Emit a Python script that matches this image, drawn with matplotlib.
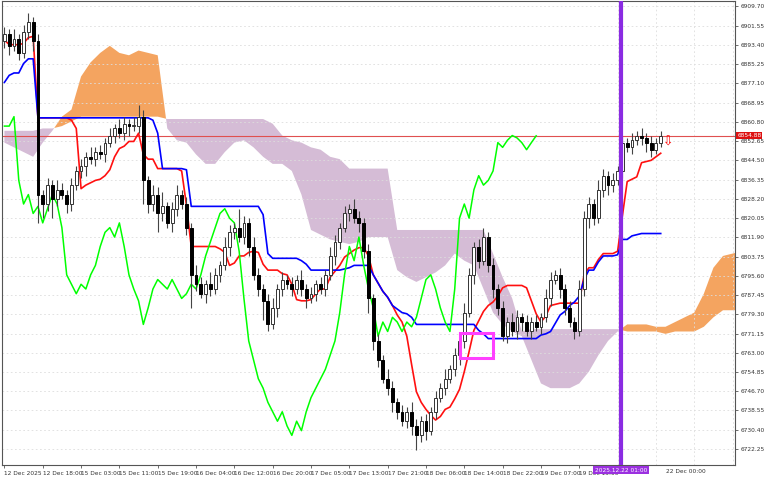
import matplotlib
matplotlib.use("Agg")
import matplotlib.pyplot as plt
import numpy as np
import pandas as pd
from matplotlib.patches import Rectangle

# ---------------- data ----------------
hist_close = [6852, 6850, 6856, 6862, 6858, 6866, 6870, 6868, 6874, 6880, 6878, 6884, 6890,
              6886, 6892, 6896, 6894, 6900, 6905, 6898, 6894, 6888, 6892, 6886, 6890, 6895]

closes = [6898, 6893, 6896, 6890, 6899, 6903, 6895, 6830, 6826, 6834,
          6828, 6832, 6830, 6826, 6834, 6840, 6842, 6846, 6845, 6848,
          6847, 6852, 6855, 6858, 6856, 6860, 6859, 6859, 6863, 6836,
          6826, 6830, 6822, 6825, 6818, 6824, 6830, 6826, 6816, 6796,
          6792, 6788, 6792, 6790, 6796, 6800, 6808, 6814, 6816, 6812,
          6818, 6808, 6796, 6790, 6785, 6775, 6782, 6790, 6794, 6792,
          6790, 6794, 6790, 6786, 6788, 6792, 6790, 6796, 6804, 6810,
          6816, 6822, 6824, 6820, 6818, 6806, 6786, 6768, 6760, 6752,
          6748, 6742, 6738, 6734, 6738, 6732, 6728, 6734, 6730, 6738,
          6744, 6748, 6752, 6756, 6762, 6768, 6780, 6796, 6808, 6802,
          6812, 6800, 6790, 6782, 6770, 6776, 6772, 6778, 6776, 6772,
          6776, 6774, 6778, 6786, 6794, 6796, 6790, 6782, 6776, 6772,
          6790, 6820, 6826, 6820, 6832, 6838, 6834, 6836, 6840, 6852,
          6850, 6853, 6855, 6854, 6852, 6849, 6852, 6854.88]

wick_up = [3, 2, 4, 2, 3, 4, 2, 3, 2, 3,
           2, 4, 3, 2, 3, 2, 3, 2, 4, 2,
           3, 2, 3, 2, 4, 3, 2, 4, 5, 3,
           2, 4, 3, 6, 2, 3, 4, 2, 3, 2,
           4, 3, 2, 5, 3, 2, 4, 3, 2, 8,
           3, 2, 4, 3, 2, 3, 4, 2, 3, 2,
           3, 2, 4, 2, 3, 2, 3, 2, 4, 3,
           2, 3, 2, 4, 3, 2, 3, 2, 3, 2,
           4, 3, 2, 3, 2, 4, 3, 2, 3, 2,
           3, 2, 4, 2, 3, 2, 4, 3, 2, 3,
           4, 2, 3, 2, 3, 2, 4, 3, 2, 3,
           2, 3, 2, 4, 3, 2, 3, 2, 3, 2,
           4, 3, 3, 2, 4, 3, 2, 3, 2, 3,
           2, 3, 2, 3, 2, 3, 2, 2]

wick_dn = [3, 4, 2, 3, 2, 3, 4, 12, 6, 3,
           8, 3, 2, 4, 3, 2, 3, 4, 2, 3,
           2, 3, 2, 3, 2, 3, 4, 2, 3, 10,
           4, 3, 8, 3, 2, 4, 3, 2, 3, 14,
           3, 2, 4, 3, 2, 3, 2, 4, 3, 2,
           3, 4, 2, 3, 8, 3, 2, 4, 3, 2,
           3, 2, 3, 4, 2, 3, 2, 3, 2, 4,
           3, 2, 3, 2, 4, 3, 6, 4, 3, 2,
           3, 4, 3, 2, 3, 4, 6, 3, 4, 2,
           3, 2, 3, 2, 3, 4, 3, 2, 4, 3,
           2, 3, 4, 3, 2, 3, 2, 3, 4, 2,
           3, 2, 3, 2, 3, 2, 4, 3, 2, 3,
           2, 3, 4, 3, 2, 3, 4, 3, 2, 3,
           2, 3, 2, 3, 4, 3, 2, 2]

cloud_a = [6852, 6850, 6848, 6846, 6852, 6857, 6863, 6866, 6880, 6886,
           6890, 6893, 6890, 6889, 6891, 6890, 6889, 6858, 6853, 6852,
           6847, 6843, 6843, 6848, 6852, 6853, 6850, 6846, 6843, 6843,
           6840, 6830, 6815, 6813, 6811, 6810, 6809, 6810, 6812, 6812,
           6812, 6798, 6795, 6793, 6795, 6797, 6800, 6805, 6802, 6800,
           6790, 6780, 6775, 6772, 6770, 6760, 6750, 6748, 6748, 6748,
           6750, 6755, 6762, 6768, 6772, 6775, 6775, 6775, 6774, 6774,
           6776, 6778, 6780, 6788, 6799, 6804, 6805, 6806]
cloud_b = [6857, 6857, 6857, 6857, 6858, 6858, 6859, 6861, 6863, 6863,
           6863, 6863, 6863, 6863, 6863, 6863, 6863, 6862, 6862, 6862,
           6862, 6862, 6862, 6862, 6862, 6862, 6862, 6862, 6860, 6855,
           6853, 6852, 6850, 6849, 6846, 6845, 6841, 6841, 6841, 6841,
           6841, 6815, 6815, 6815, 6815, 6815, 6815, 6815, 6815, 6815,
           6815, 6805, 6795, 6786, 6772, 6773, 6773, 6773, 6773, 6773,
           6773, 6773, 6773, 6773, 6773, 6772, 6772, 6772, 6772, 6771,
           6772, 6772, 6772, 6774, 6778, 6781, 6781, 6781]

x_labels = ["12 Dec 2025", "12 Dec 18:00", "15 Dec 03:00", "15 Dec 11:00", "15 Dec 19:00",
            "16 Dec 04:00", "16 Dec 12:00", "16 Dec 20:00", "17 Dec 05:00", "17 Dec 13:00",
            "17 Dec 21:00", "18 Dec 06:00", "18 Dec 14:00", "18 Dec 22:00", "19 Dec 07:00",
            "19 Dec 15:00"]
y_ticks = [6909.70, 6901.55, 6893.40, 6885.25, 6877.10, 6868.95, 6860.80, 6852.65, 6844.50,
           6836.35, 6828.20, 6820.05, 6811.90, 6803.75, 6795.60, 6787.45, 6779.30, 6771.15,
           6763.00, 6754.85, 6746.70, 6738.55, 6730.40, 6722.25]
last_price = 6854.88
marker_label = "2025.12.22 01:00"
end_label = "22 Dec 00:00"

# ---------------- computation ----------------
n = len(closes)
all_close = np.array(hist_close + closes, dtype=float)
all_open = np.concatenate([[all_close[0]], all_close[:-1]])
H = len(hist_close)
all_high = all_close.copy(); all_low = all_close.copy()
o = all_open[H:]; c = all_close[H:]
hi = np.maximum(o, c) + np.array(wick_up); lo = np.minimum(o, c) - np.array(wick_dn)
all_high[H:] = hi; all_low[H:] = lo
sh = pd.Series(all_high); sl = pd.Series(all_low)
tenkan = ((sh.rolling(9, min_periods=1).max() + sl.rolling(9, min_periods=1).min()) / 2).values[H:]
kijun = ((sh.rolling(26, min_periods=1).max() + sl.rolling(26, min_periods=1).min()) / 2).values[H:]
idx = np.arange(n)

# ---------------- figure ----------------
FS = 4.2
fig = plt.figure(figsize=(7.68, 4.8), dpi=100)
ax = fig.add_axes([0.002, 0.031, 0.955, 0.966])
ax.set_xlim(-0.6, 152.5)
ax.set_ylim(6715.4, 6911.8)

ax.set_yticks(y_ticks)
ax.yaxis.tick_right()
ax.set_yticklabels([f"{v:.2f}" for v in y_ticks], fontsize=FS, color="#333333")
ax.set_xticks(np.arange(0, 128, 8))
ax.set_xticklabels(x_labels, fontsize=FS, color="#333333", ha="left")
ax.tick_params(length=2.5, width=0.6, color="#555555", pad=1.5)
ax.set_xticks(np.arange(0, 156, 8), minor=True)
ax.tick_params(which="minor", length=0)
ax.grid(True, which="minor", axis="x", color="#dddddd", linestyle=(0, (2, 3)), lw=0.6)
ax.grid(True, which="major", axis="y", color="#dddddd", linestyle=(0, (2, 3)), lw=0.6)
ax.grid(False, which="major", axis="x")
for s in ax.spines.values():
    s.set_color("#555555"); s.set_linewidth(0.8)

cx = np.arange(len(cloud_a)) * 2
ca = np.array(cloud_a, float); cb = np.array(cloud_b, float)
ax.fill_between(cx, ca, cb, where=ca >= cb, interpolate=True, color="#f4a460", lw=0, zorder=1)
ax.fill_between(cx, ca, cb, where=ca < cb, interpolate=True, color="#d5bcd6", lw=0, zorder=1)

ax.axhline(last_price, color="#e05050", lw=0.8, zorder=2)

ax.plot(idx, tenkan, color="#ff1010", lw=1.2, zorder=3)
ax.plot(idx, kijun, color="#0000ff", lw=1.2, zorder=3)
ax.plot(idx[:-26], c[26:], color="#00ff00", lw=1.1, zorder=3)

w = 0.6
for i in range(n):
    ax.vlines(i, lo[i], hi[i], color="#444444", lw=0.8, zorder=4)
    bull = c[i] >= o[i]
    bot = min(o[i], c[i]); h = max(abs(c[i] - o[i]), 0.4)
    ax.add_patch(Rectangle((i - w / 2, bot), w, h, facecolor="white" if bull else "black",
                           edgecolor="#333333" if bull else "black", lw=0.7, zorder=5))

ax.axvline(128.7, color="#8a2be2", lw=3, zorder=6)
ax.add_patch(Rectangle((95.2, 6760.6), 6.7, 10.6, fill=False, edgecolor="#ff40ff", lw=2.2, zorder=7))
ax.text(138.6, 6852, "⇩", color="red", fontsize=9, ha="center", va="center", zorder=7)

ax.text(1.003, last_price, f"{last_price:.2f}", transform=ax.get_yaxis_transform(),
        fontsize=FS, color="white", va="center", ha="left", zorder=10,
        bbox=dict(boxstyle="square,pad=0.15", fc="#dd1111", ec="none"))
ax.text(128.7, -0.006, marker_label, transform=ax.get_xaxis_transform(), fontsize=FS,
        color="white", va="top", ha="center", zorder=10,
        bbox=dict(boxstyle="square,pad=0.25", fc="#9b30e0", ec="none"))
ax.text(138, -0.009, end_label, transform=ax.get_xaxis_transform(), fontsize=FS,
        color="#333333", va="top", ha="left", zorder=10)

fig.savefig("out.png", dpi=100)
